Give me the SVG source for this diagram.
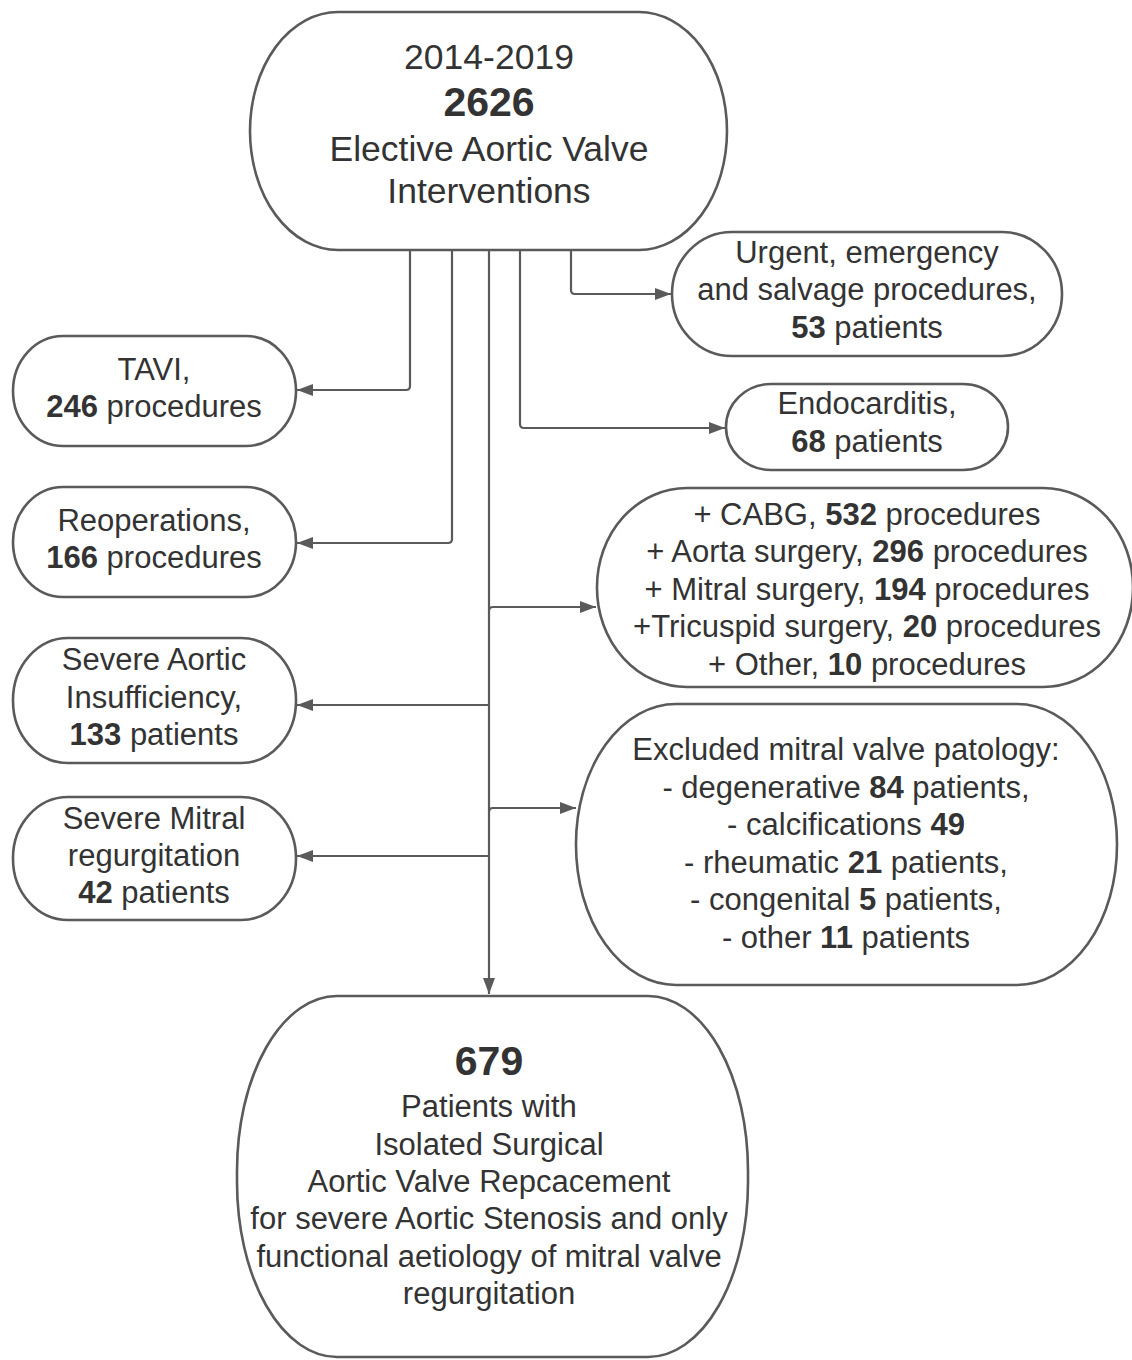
<svg xmlns="http://www.w3.org/2000/svg" width="1132" height="1360" viewBox="0 0 1132 1360">
<defs>
<marker id="ah" viewBox="0 0 16 12" refX="16" refY="6" markerWidth="16" markerHeight="12" markerUnits="userSpaceOnUse" orient="auto">
<path d="M0,0 L16,6 L0,12 Z" fill="#5a5a5a"/>
</marker>
<style>
.n{fill:#fff;stroke:#5a5a5a;stroke-width:2.6}
.c{fill:none;stroke:#5a5a5a;stroke-width:2.2;marker-end:url(#ah)}
text{font-family:"Liberation Sans",Arial,sans-serif;fill:#333;text-anchor:middle;font-size:31px}
.b{font-weight:bold}
.t{font-size:35.5px}
.big{font-size:41px;font-weight:bold}
</style>
</defs>
<rect width="1132" height="1360" fill="#fff"/>
<g id="connectors">
<path class="c" d="M410,250 V386 Q410,390 406,390 H297"/>
<path class="c" d="M452,250 V539 Q452,543 448,543 H297"/>
<path class="c" d="M489,250 V994"/>
<path class="c" d="M489,705 H297"/>
<path class="c" d="M489,856 H297"/>
<path class="c" d="M489,611 Q489,607 493,607 H596"/>
<path class="c" d="M489,812 Q489,808 493,808 H576"/>
<path class="c" d="M520,250 V424 Q520,428 524,428 H725"/>
<path class="c" d="M571,250 V290 Q571,294 575,294 H671"/>
</g>
<g id="n-top">
<rect class="n" x="250" y="12" width="477" height="238" rx="88" ry="119"/>
<text x="489" y="69" class="t">2014-2019</text>
<text x="489" y="116" class="big">2626</text>
<text x="489" y="161" class="t">Elective Aortic Valve</text>
<text x="489" y="203" class="t">Interventions</text>
</g>
<g id="n-urgent">
<rect class="n" x="672" y="232" width="390" height="124" rx="60" ry="62"/>
<text x="867" y="263">Urgent, emergency</text>
<text x="867" y="300">and salvage procedures,</text>
<text x="867" y="338"><tspan class="b">53</tspan> patients</text>
</g>
<g id="n-tavi">
<rect class="n" x="13" y="336" width="283" height="110" rx="50" ry="55"/>
<text x="154" y="380">TAVI,</text>
<text x="154" y="417"><tspan class="b">246</tspan> procedures</text>
</g>
<g id="n-endo">
<rect class="n" x="726" y="384" width="282" height="86" rx="45" ry="43"/>
<text x="867" y="414">Endocarditis,</text>
<text x="867" y="452"><tspan class="b">68</tspan> patients</text>
</g>
<g id="n-reop">
<rect class="n" x="13" y="487" width="283" height="110" rx="50" ry="55"/>
<text x="154" y="531">Reoperations,</text>
<text x="154" y="568"><tspan class="b">166</tspan> procedures</text>
</g>
<g id="n-combined">
<rect class="n" x="597" y="488" width="536" height="199" rx="90" ry="99"/>
<text x="867" y="525">+ CABG, <tspan class="b">532</tspan> procedures</text>
<text x="867" y="562">+ Aorta surgery, <tspan class="b">296</tspan> procedures</text>
<text x="867" y="600">+ Mitral surgery, <tspan class="b">194</tspan> procedures</text>
<text x="867" y="637">+Tricuspid surgery, <tspan class="b">20</tspan> procedures</text>
<text x="867" y="675">+ Other, <tspan class="b">10</tspan> procedures</text>
</g>
<g id="n-sai">
<rect class="n" x="13" y="638" width="283" height="125" rx="55" ry="62"/>
<text x="154" y="670">Severe Aortic</text>
<text x="154" y="708">Insufficiency,</text>
<text x="154" y="745"><tspan class="b">133</tspan> patients</text>
</g>
<g id="n-excluded">
<rect class="n" x="576" y="704" width="541" height="281" rx="100" ry="140"/>
<text x="846" y="760">Excluded mitral valve patology:</text>
<text x="846" y="798">- degenerative <tspan class="b">84</tspan> patients,</text>
<text x="846" y="835">- calcifications <tspan class="b">49</tspan></text>
<text x="846" y="873">- rheumatic <tspan class="b">21</tspan> patients,</text>
<text x="846" y="910">- congenital <tspan class="b">5</tspan> patients,</text>
<text x="846" y="948">- other <tspan class="b">11</tspan> patients</text>
</g>
<g id="n-smr">
<rect class="n" x="13" y="797" width="283" height="123" rx="55" ry="61"/>
<text x="154" y="829">Severe Mitral</text>
<text x="154" y="866">regurgitation</text>
<text x="154" y="903"><tspan class="b">42</tspan> patients</text>
</g>
<g id="n-final">
<rect class="n" x="237" y="996" width="511" height="361" rx="100" ry="175"/>
<text x="489" y="1075" class="big">679</text>
<text x="489" y="1117">Patients with</text>
<text x="489" y="1155">Isolated Surgical</text>
<text x="489" y="1192">Aortic Valve Repcacement</text>
<text x="489" y="1229">for severe Aortic Stenosis and only</text>
<text x="489" y="1267">functional aetiology of mitral valve</text>
<text x="489" y="1304">regurgitation</text>
</g>
</svg>
